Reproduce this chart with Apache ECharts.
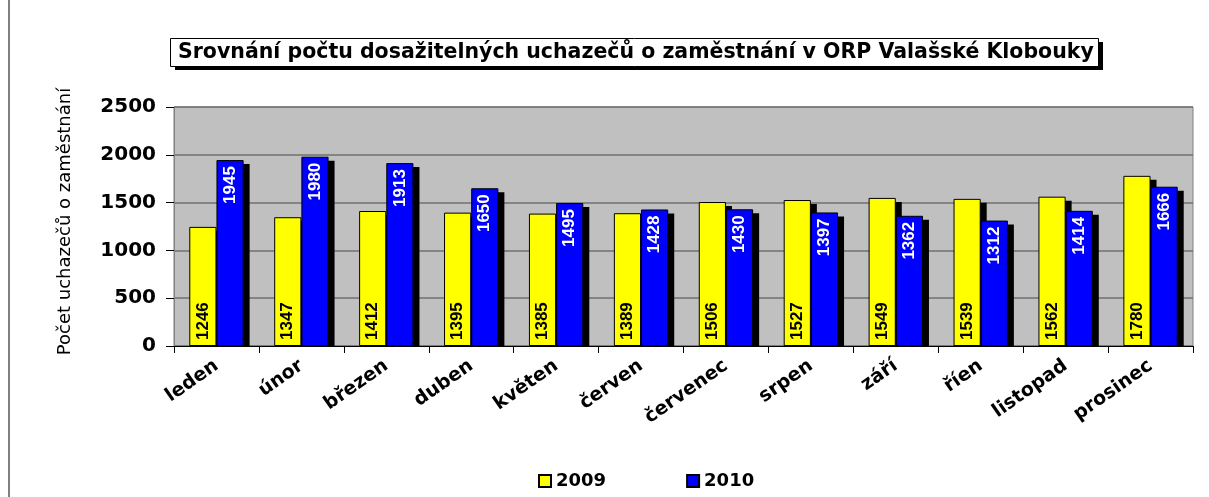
<!DOCTYPE html>
<html lang="cs">
<head>
    <meta charset="UTF-8">
    <title>Srovnání počtu dosažitelných uchazečů</title>
    <script src="https://cdn.jsdelivr.net/npm/echarts@6/dist/echarts.min.js"></script>
    <style>
        html, body { margin: 0; padding: 0; background: #ffffff; }
        #chart { width: 1209px; height: 497px; }
    </style>
</head>
<body>
    <div id="chart"></div>
    <script>
        // data
        const months = ['leden', 'únor', 'březen', 'duben', 'květen', 'červen',
                        'červenec', 'srpen', 'září', 'říen', 'listopad', 'prosinec'];
        const data2009 = [1246, 1347, 1412, 1395, 1385, 1389, 1506, 1527, 1549, 1539, 1562, 1780];
        const data2010 = [1945, 1980, 1913, 1650, 1495, 1428, 1430, 1397, 1362, 1312, 1414, 1666];
        const yTicks = [0, 500, 1000, 1500, 2000, 2500];

        const font = 'DejaVu Sans, Arial, sans-serif';
        const barFont = 'Liberation Sans Narrow, Liberation Sans, Arial, sans-serif';
        const barShare = 0.32;   // each bar's share of the category band

        // black drop shadow drawn behind each bar (offset right and down)
        function shadowSeries(name, values, side) {
            return {
                name: name,
                type: 'custom',
                z: 1,
                silent: true,
                data: values.map((v, i) => [i, v]),
                encode: { x: 0, y: 1 },
                renderItem: function (params, api) {
                    const top = api.coord([api.value(0), api.value(1)]);
                    const base = api.coord([api.value(0), 0]);
                    const w = api.size([1, 0])[0] * barShare;
                    const x0 = side < 0 ? top[0] - w : top[0];
                    return {
                        type: 'rect',
                        shape: { x: x0 + 6, y: top[1] + 4, width: w, height: base[1] - top[1] - 4 },
                        style: { fill: '#000000' }
                    };
                }
            };
        }

        let option = {
            backgroundColor: '#ffffff',
            animation: false,
            title: {
                text: 'Srovnání počtu dosažitelných uchazečů o zaměstnání v ORP Valašské Klobouky',
                left: 178,
                top: 41,
                padding: 0,
                textStyle: { fontFamily: font, fontSize: 20.5, lineHeight: 24, fontWeight: 'bold', color: '#000000' }
            },
            graphic: [
                {
                    type: 'line',
                    shape: { x1: 9, y1: 0, x2: 9, y2: 497 },
                    style: { stroke: '#808080', lineWidth: 2 }
                },
                {
                    type: 'rect', z: -2,
                    shape: { x: 175, y: 42, width: 928, height: 28 },
                    style: { fill: '#000000' }
                },
                {
                    type: 'rect', z: -1,
                    shape: { x: 170.5, y: 38.5, width: 928, height: 28 },
                    style: { fill: '#ffffff', stroke: '#000000', lineWidth: 1 }
                }
            ],
            legend: {
                left: 533,
                top: 467,
                itemWidth: 12,
                itemHeight: 12,
                itemGap: 80,
                icon: 'rect',
                textStyle: { fontFamily: font, fontSize: 18, fontWeight: 'bold', color: '#000000' },
                data: ['2009', '2010']
            },
            grid: {
                left: 174,
                right: 16,
                top: 107,
                bottom: 151,
                show: true,
                backgroundColor: '#c0c0c0',
                borderColor: '#808080',
                borderWidth: 1
            },
            xAxis: {
                type: 'category',
                data: months,
                axisLine: { lineStyle: { color: '#000000', width: 1 } },
                axisTick: { show: true, length: 7, lineStyle: { color: '#000000' } },
                axisLabel: {
                    rotate: 35,
                    margin: 18,
                    interval: 0,
                    fontFamily: font,
                    fontSize: 19,
                    fontWeight: 'bold',
                    color: '#000000'
                }
            },
            yAxis: {
                type: 'value',
                min: yTicks[0],
                max: yTicks[yTicks.length - 1],
                interval: 500,
                name: 'Počet uchazečů o zaměstnání',
                nameLocation: 'middle',
                nameRotate: 90,
                nameGap: 100,
                nameTextStyle: { fontFamily: font, fontSize: 18, color: '#000000', padding: [0, 0, 0, 10] },
                axisLine: { show: true, lineStyle: { color: '#808080', width: 1 } },
                axisTick: { show: true, length: 8, lineStyle: { color: '#000000' } },
                axisLabel: {
                    margin: 18,
                    fontFamily: font,
                    fontSize: 20,
                    fontWeight: 'bold',
                    color: '#000000',
                    formatter: (v) => String(v)
                },
                splitLine: { show: true, lineStyle: { color: '#707070', width: 1.5 } }
            },
            series: [
                shadowSeries('stín 2009', data2009, -1),
                shadowSeries('stín 2010', data2010, 1),
                {
                    name: '2009',
                    type: 'bar',
                    z: 2,
                    data: data2009,
                    barGap: '0%',
                    barCategoryGap: '36%',
                    itemStyle: { color: '#ffff00', borderColor: '#000000', borderWidth: 1 },
                    label: {
                        show: true,
                        position: 'insideBottom',
                        rotate: 90,
                        align: 'left',
                        verticalAlign: 'middle',
                        distance: 6,
                        fontFamily: barFont,
                        fontSize: 17,
                        fontWeight: 'bold',
                        color: '#000000'
                    }
                },
                {
                    name: '2010',
                    type: 'bar',
                    z: 2,
                    data: data2010,
                    itemStyle: { color: '#0000ff', borderColor: '#000000', borderWidth: 1 },
                    label: {
                        show: true,
                        position: 'insideTop',
                        rotate: 90,
                        align: 'right',
                        verticalAlign: 'middle',
                        distance: 6,
                        fontFamily: barFont,
                        fontSize: 17,
                        fontWeight: 'bold',
                        color: '#ffffff'
                    }
                }
            ]
        };

        let chart = echarts.init(document.getElementById('chart'));
        chart.setOption(option);
    </script>
</body>
</html>
